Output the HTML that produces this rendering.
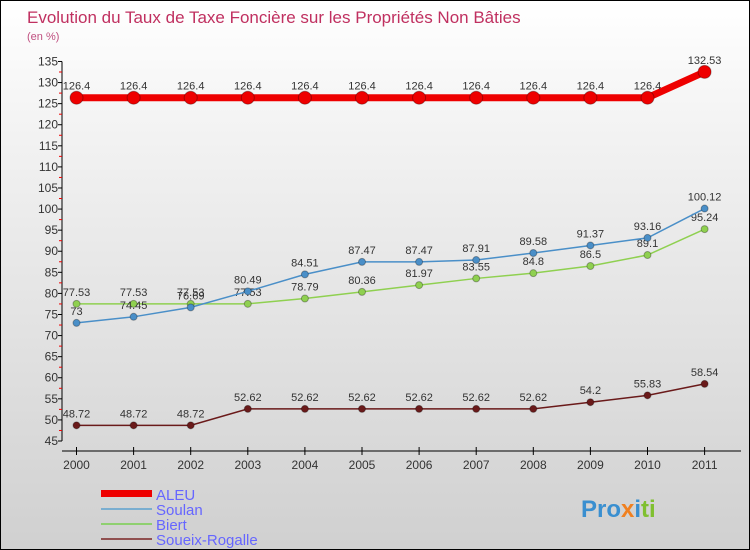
<!DOCTYPE html>
<html><head><meta charset="utf-8"><style>
body{margin:0}
#c{width:750px;height:550px;position:relative;box-sizing:border-box;border:1px solid #000;background:linear-gradient(#fff,#f2f2f2 25%,#d0d0d0);font-family:"Liberation Sans",sans-serif;overflow:hidden}
</style></head><body>
<div id="c">
<svg id="s" width="748" height="548" style="position:absolute;left:0;top:0" font-family="Liberation Sans, sans-serif">
<text x="26" y="22" font-size="17" fill="#c03060">Evolution du Taux de Taxe Foncière sur les Propriétés Non Bâties</text>
<text x="26" y="39" font-size="11" fill="#c05080">(en %)</text>
<g id="ax"></g><g id="ser"></g>
<g>
<rect x="100" y="489" width="51" height="7" fill="#e00"/>
<text x="155" y="499" font-size="15" fill="#66f">ALEU</text>
<rect x="100" y="507" width="51" height="2" fill="#7aaed0"/>
<text x="155" y="514" font-size="15" fill="#66f">Soulan</text>
<rect x="100" y="522" width="51" height="2" fill="#8fd070"/>
<text x="155" y="529" font-size="15" fill="#66f">Biert</text>
<rect x="100" y="537" width="51" height="2" fill="#905050"/>
<text x="155" y="544" font-size="15" fill="#66f">Soueix-Rogalle</text>
</g>
<text x="580" y="516" font-size="24" font-weight="bold"><tspan fill="#3a8fd0">Pro</tspan><tspan fill="#f08020">x</tspan><tspan fill="#3a8fd0">i</tspan><tspan fill="#80c030">ti</tspan></text>
</svg>
</div>
<script>
const years=[2000,2001,2002,2003,2004,2005,2006,2007,2008,2009,2010,2011];
const aleu=[126.4,126.4,126.4,126.4,126.4,126.4,126.4,126.4,126.4,126.4,126.4,132.53];
const soulan=[73,74.45,76.69,80.49,84.51,87.47,87.47,87.91,89.58,91.37,93.16,100.12];
const biert=[77.53,77.53,77.53,77.53,78.79,80.36,81.97,83.55,84.8,86.5,89.1,95.24];
const soueix=[48.72,48.72,48.72,52.62,52.62,52.62,52.62,52.62,52.62,54.2,55.83,58.54];
const yTicks=[45,50,55,60,65,70,75,80,85,90,95,100,105,110,115,120,125,130,135];
const NS="http://www.w3.org/2000/svg";
const X=i=>75.5+i*57.1, Y=v=>440-(v-45)*4.217;
function mk(p,t,a){const e=document.createElementNS(NS,t);for(const k in a)e.setAttribute(k,a[k]);p.appendChild(e);return e;}
const ax=document.getElementById('ax'),ser=document.getElementById('ser');
let l=mk(ax,'line',{x1:61,y1:Y(135),x2:61,y2:Y(45),stroke:'#000'});

l=mk(ax,'line',{x1:61,y1:450,x2:740,y2:450,stroke:'#000'});

yTicks.forEach((v,i)=>{
 mk(ax,'line',{x1:57,x2:61,y1:Y(v),y2:Y(v),stroke:'#000'});
 if(i<yTicks.length-1)mk(ax,'line',{x1:58,x2:61,y1:Y(v+2.5),y2:Y(v+2.5),stroke:'#e00'});
 const t=mk(ax,'text',{x:57,y:Y(v)+4,'text-anchor':'end','font-size':12,fill:'#333'});
 t.textContent=v;
});
years.forEach((y,i)=>{
 mk(ax,'line',{x1:X(i),x2:X(i),y1:446,y2:454,stroke:'#000'});
 const t=mk(ax,'text',{x:X(i),y:468,'text-anchor':'middle','font-size':12,fill:'#333'});
 t.textContent=y;
});
function series(d,col,w,r,name){
 const g=mk(ser,'g',{});
 
 mk(g,'polyline',{points:d.map((v,i)=>X(i)+','+Y(v)).join(' '),fill:'none',stroke:col,'stroke-width':w});
 d.forEach((v,i)=>{
  const c=mk(g,'circle',{cx:X(i),cy:Y(v),r:r,fill:col,stroke:'rgba(0,0,0,0.3)'});
  
  const t=mk(g,'text',{x:X(i),y:Y(v)-8,'text-anchor':'middle','font-size':11,fill:'#333'});
  t.textContent=v;
 });
}
series(soueix,'#6a1a1a',1.5,3.5,'soueix-rogalle');
series(biert,'#8fd050',1.5,3.5,'biert');
series(soulan,'#4a8fc8',1.5,3.5,'soulan');
series(aleu,'#e00',7,6.5,'aleu');
</script>
</body></html>
